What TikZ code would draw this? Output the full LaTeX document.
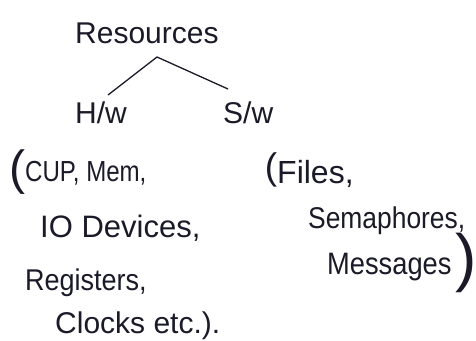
\documentclass[tikz,border=0pt]{standalone}
\usepackage{fontspec}
\usepackage{graphicx}
\setmainfont{Liberation Sans}
\definecolor{ink}{HTML}{1A1A28}
\newcommand{\fs}[1]{\fontsize{#1}{#1}\selectfont}
\newcommand{\narrow}[2]{\scalebox{#1}[1]{#2}}
\begin{document}
\begin{tikzpicture}[x=1pt,y=-1pt,
  hand/.style={text=ink,inner sep=0pt,anchor=base west},
  paren/.style={text=ink,inner sep=0pt},
  branch/.style={draw=ink,line width=1.3pt}]
\useasboundingbox[fill=white] (0,0) rectangle (476,340);
\node[hand,font=\fs{30}] (res) at (75,43) {Resources};
\coordinate (apex) at (157,57);
\coordinate (hwend) at (108,95);
\coordinate (swend) at (228,89);
\node[hand,font=\fs{30}] (hw) at (75,123) {H/w};
\node[hand,font=\fs{30}] (sw) at (223,123) {S/w};
\draw[branch] (hwend) -- (apex) -- (swend);
\node[paren,font=\fs{48}] (lp1) at (17,172) {(};
\node[hand,font=\fs{29}] (cpu) at (25,181) {\narrow{0.83}{CUP, Mem,}};
\node[hand,font=\fs{31}] (io) at (40,237) {IO Devices,};
\node[hand,font=\fs{30}] (reg) at (25,290) {\narrow{0.9}{Registers,}};
\node[hand,font=\fs{30}] (clk) at (55,333) {Clocks etc.).};
\node[paren,font=\fs{37}] (lp2) at (271,170) {(};
\node[hand,font=\fs{32}] (files) at (277,183) {Files,};
\node[hand,font=\fs{30}] (sem) at (308,228) {\narrow{0.88}{Semaphores,}};
\node[hand,font=\fs{31}] (msg) at (327,274) {\narrow{0.88}{Messages}};
\node[paren,font=\fs{64}] (rp) at (466,263) {)};
\end{tikzpicture}
\end{document}
